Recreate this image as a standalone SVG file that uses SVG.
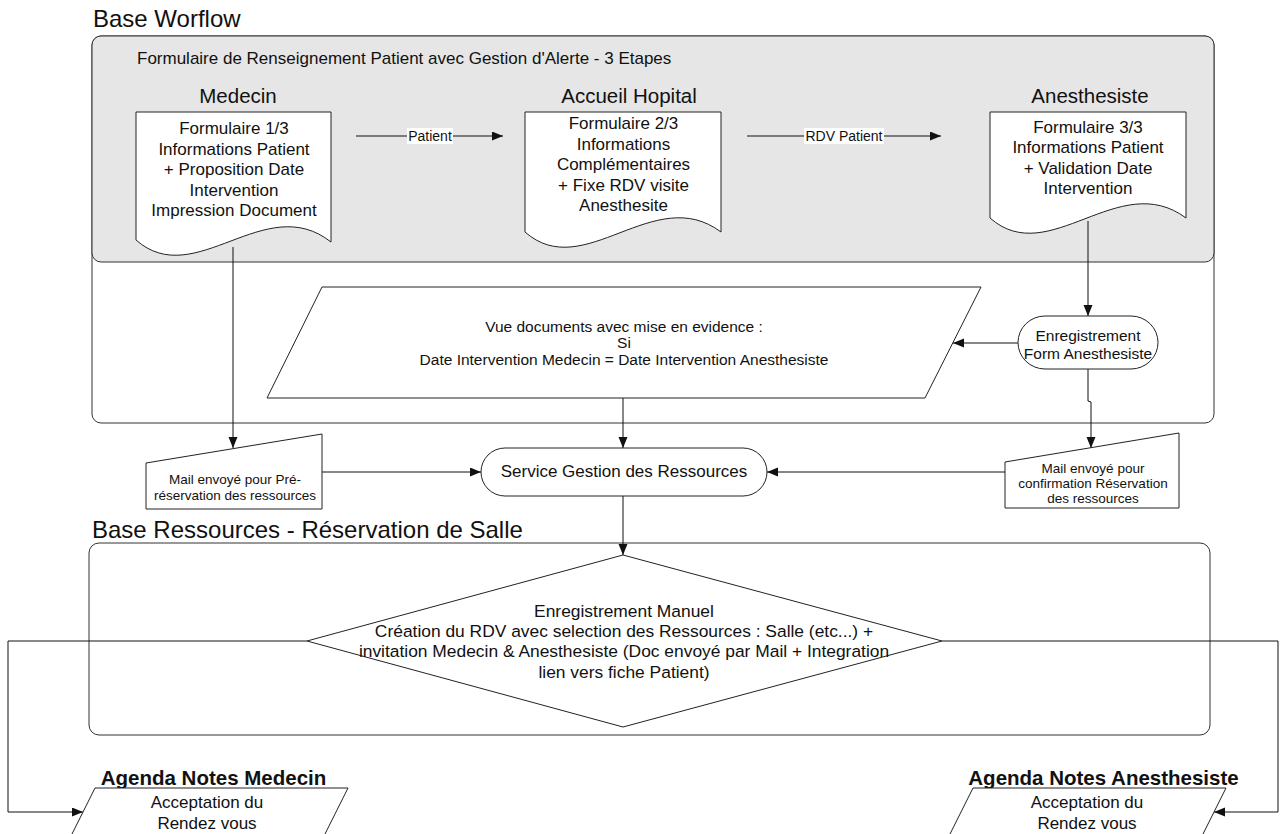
<svg xmlns="http://www.w3.org/2000/svg" width="1286" height="834" viewBox="0 0 1286 834">
<style>
text{font-family:"Liberation Sans",Arial,sans-serif;fill:#111}
.t{font-size:24px}
.h{font-size:20.5px;text-anchor:middle}
.d{font-size:17px;text-anchor:middle}
.dm{font-size:17.4px;text-anchor:middle}
.m{font-size:13.5px;text-anchor:middle}
.s{font-size:15.5px;text-anchor:middle}
.l{font-size:14px;text-anchor:middle}
.b{font-size:20.5px;font-weight:bold;text-anchor:middle}
.shape{fill:#fff;stroke:#222;stroke-width:1}
.ln{fill:none;stroke:#111;stroke-width:1}
.arr{marker-end:url(#ah)}
</style>
<defs>
<marker id="ah" markerUnits="userSpaceOnUse" markerWidth="12" markerHeight="10" refX="11" refY="4.5" orient="auto">
<path d="M0,0 L11,4.5 L0,9 z" fill="#111"/>
</marker>
</defs>
<rect width="1286" height="834" fill="#fff"/>

<g id="containers">
<text class="t" x="93" y="27">Base Worflow</text>
<rect x="92" y="36" width="1122" height="387" rx="9" fill="#fff" stroke="#333"/>
<rect x="92" y="36" width="1122" height="226" rx="9" fill="#e6e6e6" stroke="#333"/>
<text x="137" y="64" style="font-size:17px">Formulaire de Renseignement Patient avec Gestion d'Alerte - 3 Etapes</text>
<text class="t" x="92" y="538">Base Ressources - Réservation de Salle</text>
<rect x="89" y="543" width="1121" height="192" rx="10" fill="#fff" stroke="#333"/>
</g>

<g id="connectors">
<line class="ln arr" x1="356" y1="136" x2="503" y2="136"/>
<rect x="407" y="128" width="46" height="16" fill="#fff"/>
<text class="l" x="430" y="141">Patient</text>
<line class="ln arr" x1="747" y1="136" x2="941" y2="136"/>
<rect x="804" y="128" width="80" height="16" fill="#fff"/>
<text class="l" x="844" y="141">RDV Patient</text>
<line class="ln arr" x1="233" y1="247" x2="233" y2="448"/>
<line class="ln arr" x1="1088" y1="221" x2="1088" y2="316"/>
<line class="ln arr" x1="1018" y1="343" x2="953" y2="343"/>
<polyline class="ln arr" points="1088,369 1088,401 1091,402 1091,448"/>
<line class="ln arr" x1="623" y1="398" x2="623" y2="448"/>
<line class="ln arr" x1="322" y1="472" x2="481" y2="472"/>
<line class="ln arr" x1="1005" y1="472" x2="767" y2="472"/>
<line class="ln arr" x1="623" y1="496" x2="623" y2="555"/>
<polyline class="ln arr" points="307,641 8,641 8,812 83,812"/>
<polyline class="ln arr" points="942,641 1278,641 1278,812 1214,812"/>
</g>

<g id="medecin">
<text class="h" x="238" y="103">Medecin</text>
<path class="shape" d="M136,112 H331 V242 C265,190 195,292 136,240 Z"/>
<text class="d" x="234" y="134">Formulaire 1/3</text>
<text class="d" x="234" y="154.5">Informations Patient</text>
<text class="d" x="234" y="175">+ Proposition Date</text>
<text class="d" x="234" y="195.5">Intervention</text>
<text class="d" x="234" y="216">Impression Document</text>
</g>

<g id="accueil">
<text class="h" x="629" y="103">Accueil Hopital</text>
<path class="shape" d="M525,112 H721 V232 C654,182 584,284 525,232 Z"/>
<text class="d" x="623.5" y="129">Formulaire 2/3</text>
<text class="d" x="623.5" y="149.5">Informations</text>
<text class="d" x="623.5" y="170">Complémentaires</text>
<text class="d" x="623.5" y="190.5">+ Fixe RDV visite</text>
<text class="d" x="623.5" y="211">Anesthesite</text>
</g>

<g id="anesthesiste">
<text class="h" x="1090" y="103">Anesthesiste</text>
<path class="shape" d="M990,112 H1186 V218 C1119,168 1049,270 990,218 Z"/>
<text class="d" x="1088" y="132.5">Formulaire 3/3</text>
<text class="d" x="1088" y="153">Informations Patient</text>
<text class="d" x="1088" y="173.5">+ Validation Date</text>
<text class="d" x="1088" y="194">Intervention</text>
</g>

<g id="enregistrement">
<rect class="shape" x="1018" y="316" width="140" height="53" rx="27" ry="26.5"/>
<text class="s" x="1088" y="340.5">Enregistrement</text>
<text class="s" x="1088" y="358.5">Form Anesthesiste</text>
</g>

<g id="vue-documents">
<polygon class="shape" points="322,287 981,287 925,398 267,398"/>
<text class="s" x="624" y="331.5">Vue documents avec mise en evidence :</text>
<text class="s" x="624" y="348">Si</text>
<text class="s" x="624" y="364.5">Date Intervention Medecin = Date Intervention Anesthesiste</text>
</g>

<g id="mail-pre">
<polygon class="shape" points="146,463 322,434 322,509 146,509"/>
<text class="m" x="235" y="484">Mail envoyé pour Pré-</text>
<text class="m" x="235" y="499.5">réservation des ressources</text>
</g>

<g id="service">
<rect class="shape" x="481" y="448" width="286" height="48" rx="24"/>
<text class="d" x="624" y="477">Service Gestion des Ressources</text>
</g>

<g id="mail-confirm">
<polygon class="shape" points="1005,462 1179,433 1179,508 1005,508"/>
<text class="m" x="1093" y="473">Mail envoyé pour</text>
<text class="m" x="1093" y="488">confirmation Réservation</text>
<text class="m" x="1093" y="503">des ressources</text>
</g>

<g id="enregistrement-manuel">
<polygon class="shape" points="623,555 942,641 623,727 307,641"/>
<text class="dm" x="624" y="617">Enregistrement Manuel</text>
<text class="dm" x="624" y="637">Création du RDV avec selection des Ressources : Salle (etc...) +</text>
<text class="dm" x="624" y="657">invitation Medecin &amp; Anesthesiste (Doc envoyé par Mail + Integration</text>
<text class="dm" x="624" y="677.5">lien vers fiche Patient)</text>
</g>

<g id="agenda-medecin">
<text class="b" x="213.5" y="785">Agenda Notes Medecin</text>
<polygon class="shape" points="95,788 348,788 312,860 59,860"/>
<text class="d" x="207" y="808">Acceptation du</text>
<text class="d" x="207" y="829">Rendez vous</text>
</g>

<g id="agenda-anesthesiste">
<text class="b" x="1103.5" y="785">Agenda Notes Anesthesiste</text>
<polygon class="shape" points="973,788 1226,788 1190,860 937,860"/>
<text class="d" x="1087" y="808">Acceptation du</text>
<text class="d" x="1087" y="829">Rendez vous</text>
</g>
</svg>
